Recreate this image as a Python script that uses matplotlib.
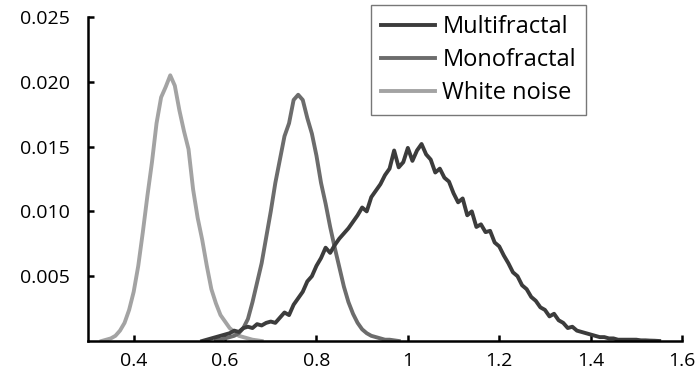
import numpy as np
import matplotlib
matplotlib.use("Agg")
import matplotlib.pyplot as plt

# distributions (x step 0.01)
white_x0 = 0.33
white = [0.0, 0.0001, 0.0002, 0.0004, 0.0008, 0.0014, 0.0024, 0.0038, 0.0058, 0.0084,
         0.0112, 0.0138, 0.0168, 0.0188, 0.0196, 0.0205, 0.0197, 0.0178, 0.0162, 0.0148,
         0.0117, 0.0095, 0.0078, 0.0058, 0.0040, 0.0029, 0.0020, 0.0015, 0.0010, 0.0007,
         0.0004, 0.0003, 0.0002, 0.0001, 0.00005, 0.0]

mono_x0 = 0.58
mono = [0.0001, 0.0001, 0.0002, 0.0003, 0.0004, 0.0006, 0.0010, 0.0017, 0.0030, 0.0045,
        0.0060, 0.0080, 0.0100, 0.0122, 0.0140, 0.0158, 0.0168, 0.0186, 0.0190, 0.0186,
        0.0172, 0.0160, 0.0143, 0.0122, 0.0106, 0.0088, 0.0072, 0.0057, 0.0042, 0.0030,
        0.0021, 0.0014, 0.0009, 0.0006, 0.0004, 0.0003, 0.0002, 0.0001, 0.0001, 0.00005,
        0.0]

multi_x0 = 0.55
multi = [0.0, 0.0001, 0.0002, 0.0003, 0.0004, 0.0005, 0.0006, 0.0008, 0.0007, 0.0010,
         0.0011, 0.0010, 0.0013, 0.0012, 0.0014, 0.0015, 0.0014, 0.0018, 0.0022, 0.0020,
         0.0028, 0.0033, 0.0038, 0.0046, 0.0050, 0.0058, 0.0064, 0.0072, 0.0068, 0.0074,
         0.0079, 0.0083, 0.0087, 0.0092, 0.0097, 0.0103, 0.0100, 0.0111, 0.0116, 0.0121,
         0.0128, 0.0133, 0.0147, 0.0134, 0.0138, 0.0149, 0.0139, 0.0147, 0.0152, 0.0144,
         0.0140, 0.0130, 0.0133, 0.0126, 0.0123, 0.0114, 0.0107, 0.0110, 0.0097, 0.0100,
         0.0088, 0.0090, 0.0084, 0.0085, 0.0076, 0.0073, 0.0066, 0.0060, 0.0053, 0.0050,
         0.0043, 0.0040, 0.0034, 0.0031, 0.0026, 0.0024, 0.0019, 0.0021, 0.0016, 0.0014,
         0.0010, 0.0011, 0.0008, 0.0007, 0.0006, 0.0005, 0.0004, 0.0003, 0.0003, 0.0002,
         0.0002, 0.0001, 0.0001, 0.0001, 0.0001, 0.0001, 0.00005, 0.00005, 0.00003, 0.00002,
         0.0]

labels = ["Multifractal", "Monofractal", "White noise"]
C_MULTI, C_MONO, C_WHITE = "#3c3c3c", "#6c6c6c", "#a3a3a3"


def xs(x0, vals):
    return x0 + 0.01 * np.arange(len(vals))


plt.rcParams["font.family"] = ["Open Sans", "DejaVu Sans"]
fig = plt.figure(figsize=(6.96, 3.77), dpi=100)
ax = fig.add_axes([88 / 696, 1 - 341 / 377, 594 / 696, 324 / 377])

lw = 2.8
h_white, = ax.plot(xs(white_x0, white), white, color=C_WHITE, lw=lw)
h_mono, = ax.plot(xs(mono_x0, mono), mono, color=C_MONO, lw=lw)
h_multi, = ax.plot(xs(multi_x0, multi), multi, color=C_MULTI, lw=lw)

ax.set_xlim(0.3, 1.6)
ax.set_ylim(0, 0.025)
ax.set_xticks([0.4, 0.6, 0.8, 1.0, 1.2, 1.4, 1.6])
ax.set_xticklabels(["0.4", "0.6", "0.8", "1", "1.2", "1.4", "1.6"])
ax.set_yticks([0.005, 0.010, 0.015, 0.020, 0.025])
ax.set_yticklabels(["0.005", "0.010", "0.015", "0.020", "0.025"])
for s in ("top", "right"):
    ax.spines[s].set_visible(False)
for s in ("left", "bottom"):
    ax.spines[s].set_linewidth(1.8)
    ax.spines[s].set_color("black")
ax.tick_params(direction="in", length=4, width=1.8, labelsize=14, colors="black")
ax.tick_params(axis="y", pad=13)
ax.tick_params(axis="x", pad=8)

leg = ax.legend([h_multi, h_mono, h_white], labels,
                loc="upper left", bbox_to_anchor=(371 / 696, 1 - 5 / 377),
                bbox_transform=fig.transFigure, borderaxespad=0,
                fancybox=False, frameon=True, fontsize=17,
                handlelength=2.3, handletextpad=0.3, labelspacing=0.38,
                borderpad=0.42)
leg.get_frame().set_edgecolor("#555555")
leg.get_frame().set_linewidth(1.0)

fig.savefig("out.png", dpi=100)
